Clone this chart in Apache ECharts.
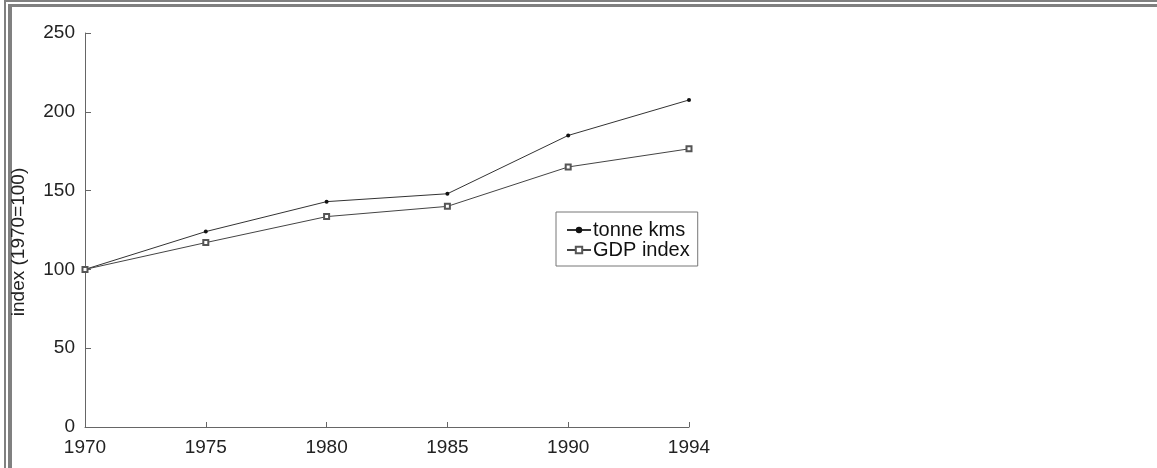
<!DOCTYPE html>
<html>
<head>
<meta charset="utf-8">
<script src="https://cdn.jsdelivr.net/npm/echarts@6/dist/echarts.min.js"></script>
<style>
html,body{margin:0;padding:0;background:#fff;}
#chart{width:1157px;height:468px;}
</style>
</head>
<body>
<div id="chart"></div>
<script>
const years = ['1970','1975','1980','1985','1990','1994'];
const tonneKms = [100, 124, 143, 148, 185, 207.5];
const gdpIndex = [100, 117, 133.5, 140, 165, 176.5];
const yTicks = {min: 0, max: 250, interval: 50};

const chart = echarts.init(document.getElementById('chart'));
const font = 'Liberation Sans, Arial, Helvetica, sans-serif';
const axisCol = '#666';
chart.setOption({
  animation: false,
  backgroundColor: '#fff',
  graphic: [
    {type:'rect', shape:{x:4,y:0,width:1153,height:2}, style:{fill:'#808080'}},
    {type:'rect', shape:{x:4,y:0,width:2,height:468}, style:{fill:'#808080'}},
    {type:'rect', shape:{x:8,y:4,width:1149,height:3}, style:{fill:'#808080'}},
    {type:'rect', shape:{x:8,y:4,width:4,height:464}, style:{fill:'#808080'}}
  ],
  grid: {left: 85, right: 468, top: 33, bottom: 41, containLabel: false},
  legend: {
    orient: 'vertical',
    left: 556, top: 212,
    itemGap: 0, itemWidth: 24, itemHeight: 8,
    padding: [8, 8, 6, 10],
    borderColor: '#777', borderWidth: 1,
    textStyle: {fontFamily: font, fontSize: 20, lineHeight: 17, color: '#111', padding: [0,0,0,-3]},
    data: ['tonne kms', 'GDP index']
  },
  xAxis: {
    type: 'category', data: years, boundaryGap: false,
    axisLine: {lineStyle: {color: axisCol, width: 1}},
    axisTick: {inside: true, length: 5, lineStyle: {color: axisCol}},
    axisLabel: {fontFamily: font, fontSize: 19, color: '#222', margin: 11},
    splitLine: {show: false}
  },
  yAxis: {
    type: 'value', min: yTicks.min, max: yTicks.max, interval: yTicks.interval,
    name: 'index (1970=100)', nameLocation: 'middle', nameRotate: 90, nameGap: 57,
    nameTextStyle: {fontFamily: font, fontSize: 19, color: '#222', padding: [0, 24, 0, 0]},
    axisLine: {show: true, lineStyle: {color: axisCol, width: 1}},
    axisTick: {show: true, inside: true, length: 6, lineStyle: {color: axisCol}},
    axisLabel: {fontFamily: font, fontSize: 19, color: '#222', margin: 10},
    splitLine: {show: false}
  },
  series: [
    {
      name: 'tonne kms', type: 'line', data: tonneKms,
      symbol: 'circle', symbolSize: 4,
      lineStyle: {color: '#333', width: 1},
      itemStyle: {color: '#111'}
    },
    {
      name: 'GDP index', type: 'line', data: gdpIndex,
      symbol: 'emptyRect', symbolSize: 5,
      lineStyle: {color: '#444', width: 1},
      itemStyle: {color: '#555', borderColor: '#555', borderWidth: 1}
    }
  ]
});
</script>
</body>
</html>
